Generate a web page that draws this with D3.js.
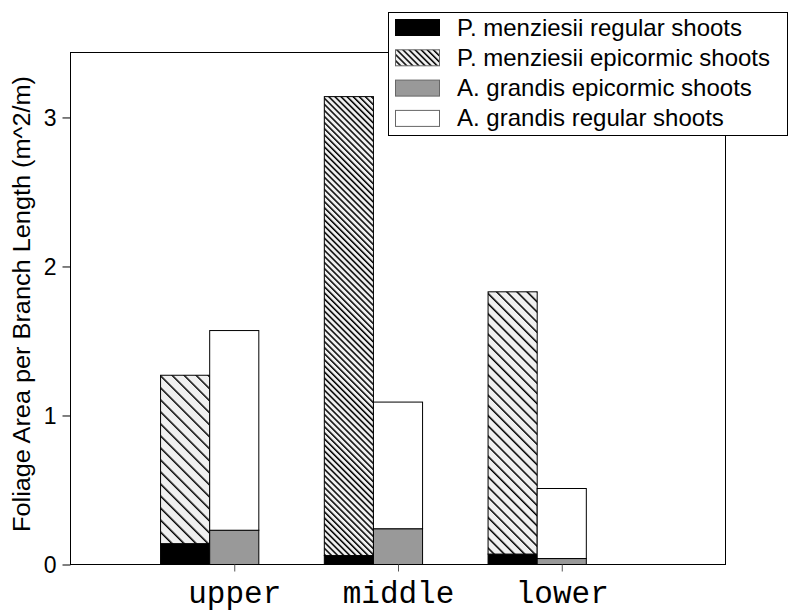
<!DOCTYPE html>
<html>
<head>
<meta charset="utf-8">
<script src="https://cdn.jsdelivr.net/npm/d3@7"></script>
<style>
  html, body { margin: 0; padding: 0; background: #fff; }
  svg { display: block; }
</style>
</head>
<body>
<svg id="chart" width="789" height="611"></svg>
<script>
// Foliage area per branch length by crown position
const categories = ["upper", "middle", "lower"];
const pmRegular   = [0.14, 0.06, 0.07];   // P. menziesii regular shoots
const pmEpicormic = [1.13, 3.08, 1.76];   // P. menziesii epicormic shoots
const agEpicormic = [0.23, 0.24, 0.04];   // A. grandis epicormic shoots
const agRegular   = [1.34, 0.85, 0.47];   // A. grandis regular shoots
const yTicks = [0, 1, 2, 3];
const legendLabels = [
  "P. menziesii regular shoots",
  "P. menziesii epicormic shoots",
  "A. grandis epicormic shoots",
  "A. grandis regular shoots"
];

(function () {
  const svg = d3.select("#chart");
  const plotL = 70.5, plotR = 725.5, plotT = 52.5, plotB = 564.5;
  const sans = "Liberation Sans, Arial, sans-serif";

  const x = d3.scaleLinear().domain([0, categories.length + 1]).range([plotL, plotR]);
  const y = d3.scaleLinear().domain([0, 3.436]).range([plotB, plotT]);
  const barW = 0.3;

  // hatch patterns (line gap differs per bar)
  const hatchGaps = [8.5, 4.3, 7.2];
  const defs = svg.append("defs");
  function hatch(id, gap) {
    const p = defs.append("pattern")
      .attr("id", id)
      .attr("patternUnits", "userSpaceOnUse")
      .attr("width", gap).attr("height", gap)
      .attr("patternTransform", "rotate(-45)");
    p.append("rect").attr("width", gap).attr("height", gap).attr("fill", "#f0f0f0");
    p.append("line").attr("x1", 0.75).attr("y1", 0).attr("x2", 0.75).attr("y2", gap)
      .attr("stroke", "#000").attr("stroke-width", 1.5);
  }
  hatchGaps.forEach((g, i) => hatch("hatch" + i, g));
  hatch("hatchLegend", 4.3);

  // frame
  svg.append("rect")
    .attr("x", plotL).attr("y", plotT)
    .attr("width", plotR - plotL).attr("height", plotB - plotT)
    .attr("fill", "none").attr("stroke", "#000").attr("stroke-width", 1);

  // stacked bar segments
  const segs = [];
  categories.forEach((c, i) => {
    const pos = i + 1;
    segs.push({ x0: pos - 1.5 * barW, y0: 0, y1: pmRegular[i], fill: "#000" });
    segs.push({ x0: pos - 1.5 * barW, y0: pmRegular[i], y1: pmRegular[i] + pmEpicormic[i], fill: "url(#hatch" + i + ")" });
    segs.push({ x0: pos - 0.5 * barW, y0: 0, y1: agEpicormic[i], fill: "#999999" });
    segs.push({ x0: pos - 0.5 * barW, y0: agEpicormic[i], y1: agEpicormic[i] + agRegular[i], fill: "#fff" });
  });
  svg.append("g").selectAll("rect").data(segs).join("rect")
    .attr("x", d => x(d.x0))
    .attr("width", d => x(d.x0 + barW) - x(d.x0))
    .attr("y", d => y(d.y1))
    .attr("height", d => y(d.y0) - y(d.y1))
    .attr("fill", d => d.fill)
    .attr("stroke", "#000").attr("stroke-width", 1);

  // y axis
  const yAxis = svg.append("g")
    .attr("transform", `translate(${plotL},0)`)
    .call(d3.axisLeft(y).tickValues(yTicks).tickFormat(d3.format("d")).tickSize(8).tickPadding(6));
  yAxis.select(".domain").remove();
  yAxis.selectAll("text").attr("font-family", sans)
    .attr("font-size", 23).attr("fill", "#000").attr("dy", "0.36em");

  // x axis
  const xAxis = svg.append("g")
    .attr("transform", `translate(0,${plotB})`)
    .call(d3.axisBottom(x).tickValues(categories.map((c, i) => i + 1))
      .tickFormat((d, i) => categories[i]).tickSize(7).tickPadding(9));
  xAxis.select(".domain").remove();
  xAxis.selectAll("line").attr("stroke", "#555");
  xAxis.selectAll("text").attr("font-family", "Liberation Mono, Courier New, monospace")
    .attr("font-size", 31).attr("fill", "#000");

  // y title
  svg.append("text")
    .attr("transform", "translate(30,304) rotate(-90)")
    .attr("text-anchor", "middle")
    .attr("font-family", sans)
    .attr("font-size", 23)
    .attr("textLength", 456)
    .attr("lengthAdjust", "spacingAndGlyphs")
    .text("Foliage Area per Branch Length (m^2/m)");

  // legend
  const lg = svg.append("g");
  lg.append("rect").attr("x", 388.5).attr("y", 12.5).attr("width", 399).attr("height", 123)
    .attr("fill", "#fff").attr("stroke", "#000").attr("stroke-width", 1);
  const swatchFills = ["#000", "url(#hatchLegend)", "#999999", "#fff"];
  const rows = lg.selectAll("g.row").data(legendLabels).join("g")
    .attr("transform", (d, i) => `translate(0,${19 + i * 30.3})`);
  rows.append("rect").attr("x", 395.5).attr("y", 0.5).attr("width", 44).attr("height", 16)
    .attr("fill", (d, i) => swatchFills[i])
    .attr("stroke", (d, i) => i === 0 ? "#000" : "#666").attr("stroke-width", 1);
  rows.append("text").attr("x", 457).attr("y", 16.5)
    .attr("font-family", sans)
    .attr("font-size", 24)
    .text(d => d);
})();
</script>
</body>
</html>
